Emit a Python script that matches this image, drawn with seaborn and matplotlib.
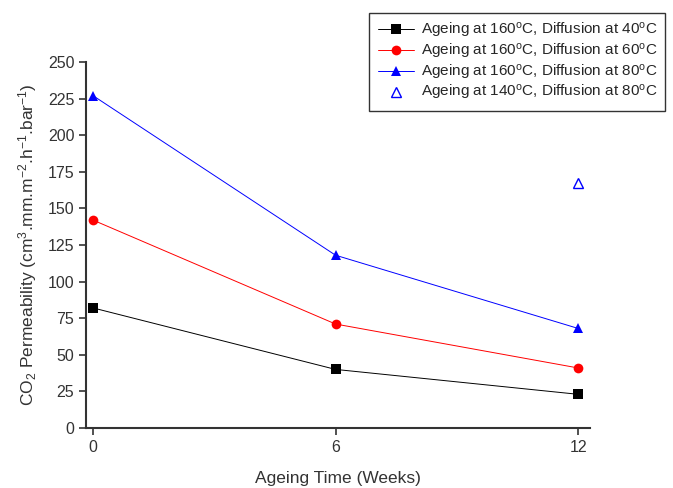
import matplotlib
matplotlib.use("Agg")
import matplotlib.pyplot as plt
import pandas as pd
import seaborn as sns

# Values
weeks = [0, 6, 12]
perm_160_40 = [82, 40, 23]
perm_160_60 = [142, 71, 41]
perm_160_80 = [227, 118, 68]
weeks_140 = [12]
perm_140_80 = [167]

labels = ["Ageing at 160$^{o}$C, Diffusion at 40$^{o}$C",
          "Ageing at 160$^{o}$C, Diffusion at 60$^{o}$C",
          "Ageing at 160$^{o}$C, Diffusion at 80$^{o}$C",
          "Ageing at 140$^{o}$C, Diffusion at 80$^{o}$C"]

sns.set_style("ticks")
plt.rcParams['font.family'] = ['Liberation Sans', 'DejaVu Sans']
plt.rcParams['mathtext.default'] = 'regular'

fig = plt.figure(figsize=(6.73, 4.88), dpi=100)
ax = fig.add_axes([0.128, 0.123, 0.749, 0.75])

df = pd.DataFrame({'weeks': weeks * 3,
                   'perm': perm_160_40 + perm_160_60 + perm_160_80,
                   'series': [labels[0]] * 3 + [labels[1]] * 3 + [labels[2]] * 3})
sns.lineplot(data=df, x='weeks', y='perm', hue='series', style='series',
             palette=['black', 'red', 'blue'], markers=['s', 'o', '^'],
             dashes=False, markersize=7, linewidth=0.7, markeredgewidth=0,
             ax=ax)
ax.plot(weeks_140, perm_140_80, linestyle='none', marker='^', markersize=7,
        markerfacecolor='none', markeredgecolor='blue', markeredgewidth=1,
        label=labels[3])

ax.set_xlim(-0.17, 12.3)
ax.set_ylim(0, 250)
ax.set_xticks(weeks)
ax.set_yticks(range(0, 251, 25))
ax.tick_params(labelsize=11.5, colors='#333333', length=5, width=1.2)
for s in ['left', 'bottom']:
    ax.spines[s].set_linewidth(1.5)
    ax.spines[s].set_color('#333333')
sns.despine(ax=ax)
ax.set_xlabel("Ageing Time (Weeks)", fontsize=12.5, color='#333333', labelpad=12)
ax.set_ylabel("CO$_2$ Permeability (cm$^3$.mm.m$^{-2}$.h$^{-1}$.bar$^{-1}$)",
              fontsize=12.5, color='#333333', labelpad=6)

handles, _ = ax.get_legend_handles_labels()
ax.get_legend().remove()
leg = fig.legend(handles, labels, loc='upper right', bbox_to_anchor=(1.0, 0.99),
                 fontsize=11, frameon=True, fancybox=False, edgecolor='black',
                 handlelength=2.4, borderpad=0.55, labelspacing=0.12,
                 handletextpad=0.4)
leg.get_frame().set_linewidth(1.0)

fig.savefig("out.png", dpi=100)
